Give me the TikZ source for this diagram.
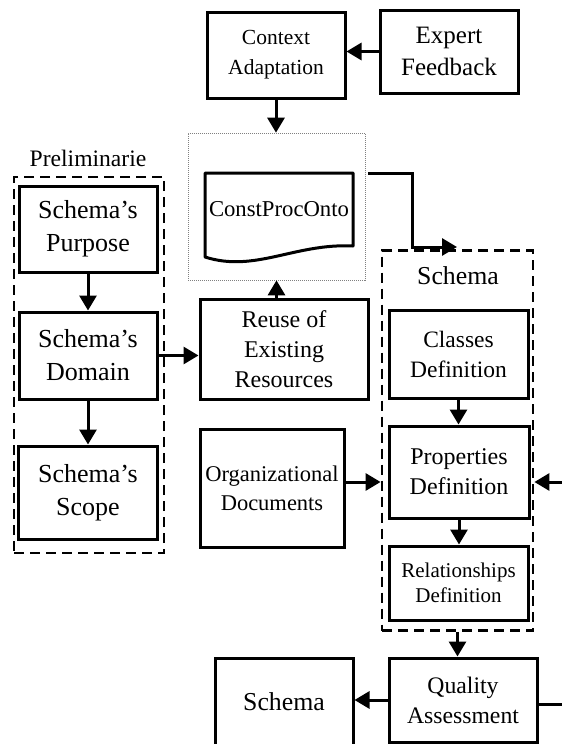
\documentclass[tikz,border=0pt]{standalone}
\usepackage{fontspec}
\setmainfont{Liberation Serif}
\usepackage{tikz}
\usetikzlibrary{arrows.meta, calc, positioning}
\newcommand{\fsz}[2]{\fontsize{#1}{#2}\selectfont}

\begin{document}
\begin{tikzpicture}[x=1pt, y=-1pt, line cap=butt,
	box/.style={draw, line width=3pt, inner sep=0pt, align=center},
	grp/.style={draw, line width=2.8pt, dash pattern=on 10pt off 6pt, inner sep=0pt},
	arr/.style={line width=3pt, -{Triangle[length=15pt, width=17pt]}}]

	\useasboundingbox (0,0) rectangle (562,744);

	% top row
	\node[box, minimum width=138pt, minimum height=86pt, font=\fsz{21.5}{30}] (ctx) at (276,55) {Context\\Adaptation};
	\node[box, minimum width=138pt, minimum height=83pt, font=\fsz{25}{32}] (exp) at (449,51.5) {Expert\\Feedback};

	% ontology document
	\node[draw=gray, line width=0.7pt, dash pattern=on 1pt off 1pt, minimum width=177pt, minimum height=147pt] (frame) at (276.5,206.5) {};
	\draw[line width=3pt, line join=round] (353,246) -- (353,173) -- (205,173) -- (205,257) .. controls (255,273) and (295,243) .. (353,246) -- cycle;
	\node[font=\fsz{22.7}{27}] (doc) at (279,209) {ConstProcOnto};
	\coordinate (docout) at (368,173);
	\coordinate (bend) at (412,247);

	% preliminarie
	\node[font=\fsz{23.6}{28}] (prelab) at (88,158) {Preliminarie};
	\node[grp, minimum width=150pt, minimum height=376pt] (pre) at (89,365) {};
	\node[box, minimum width=138pt, minimum height=86pt, font=\fsz{26}{33}] (pur) at (88,229) {Schema’s\\Purpose};
	\node[box, minimum width=138pt, minimum height=87pt, font=\fsz{26}{33}] (dom) at (88,355.5) {Schema’s\\Domain};
	\node[box, minimum width=139pt, minimum height=93pt, font=\fsz{26}{33}] (sco) at (88,492.5) {Schema’s\\Scope};

	% middle column
	\node[box, minimum width=168pt, minimum height=100pt, font=\fsz{24}{30}] (reuse) at (284,349) {Reuse of\\Existing\\Resources};
	\node[box, minimum width=144pt, minimum height=118pt, font=\fsz{22.5}{29}] (org) at (272,488) {Organizational\\Documents};

	% schema group
	\node[grp, minimum width=151pt, minimum height=380pt] (grp) at (457.5,440.5) {};
	\node[font=\fsz{25.8}{30}] (grplab) at (458,276) {Schema};
	\node[box, minimum width=139pt, minimum height=88pt, font=\fsz{23.5}{30}] (cls) at (458.5,354) {Classes\\Definition};
	\node[box, minimum width=140pt, minimum height=92pt, font=\fsz{24}{30}] (prp) at (459,472) {Properties\\Definition};
	\node[box, minimum width=139pt, minimum height=74pt, font=\fsz{21}{25}] (rel) at (458.5,583) {Relationships\\Definition};
	\coordinate (sctop) at (457,247);

	% bottom row
	\node[box, minimum width=148pt, minimum height=84pt, font=\fsz{23.7}{30}] (qa) at (463,700) {Quality\\Assessment};
	\node[box, minimum width=138pt, minimum height=88pt, font=\fsz{25.8}{30}] (out) at (284,702) {Schema};
	\coordinate (edgeq) at (562,704);
	\coordinate (edgep) at (562,482);

	% connectors
	\draw[arr] (exp.west) -- (exp.west -| ctx.east);
	\draw[arr] (ctx.south) -- (ctx.south |- frame.north);
	\draw[arr] (frame.south |- reuse.north) -- (frame.south);
	\draw[arr] (docout) -| (bend) -- (sctop);
	\draw[arr] (pur.south) -- (dom.north);
	\draw[arr] (dom.south) -- (sco.north);
	\draw[arr] (dom.east) -- (dom.east -| reuse.west);
	\draw[arr] (org.east |- edgep) -- (grp.west |- edgep);
	\draw[arr] (cls.south) -- (cls.south |- prp.north);
	\draw[arr] (prp.south) -- (prp.south |- rel.north);
	\draw[arr] (grp.south) -- (grp.south |- qa.north);
	\draw[arr] (qa.west) -- (qa.west -| out.east);
	\draw[line width=3pt] (qa.east |- edgeq) -- (edgeq);
	\draw[arr] (edgep) -- (grp.east |- edgep);

\end{tikzpicture}
\end{document}
